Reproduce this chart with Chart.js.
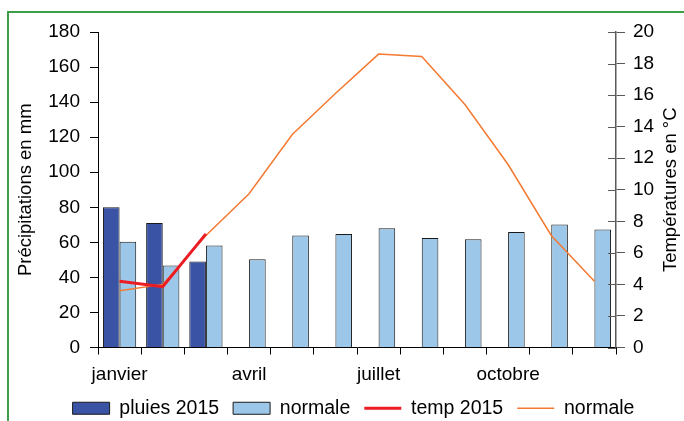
<!DOCTYPE html>
<html>
<head>
<meta charset="utf-8">
<script src="https://cdn.jsdelivr.net/npm/chart.js@4"></script>
<style>
html,body{margin:0;padding:0;background:#fff;overflow:hidden;width:684px;height:421px;}
#frame{position:absolute;left:7px;top:11px;width:720px;height:440px;border-top:2px solid #3C9E48;border-left:2px solid #3C9E48;}
#wrap{position:absolute;left:0;top:0;width:684px;height:421px;}
</style>
</head>
<body>
<div id="frame"></div>
<div id="wrap"><canvas id="c" width="684" height="421"></canvas></div>
<script>
const months = ['janvier','février','mars','avril','mai','juin','juillet','août','septembre','octobre','novembre','décembre'];
const pluies2015 = [80, 71, 49, null, null, null, null, null, null, null, null, null];
const pluiesNormale = [60.3, 46.8, 58.2, 50.4, 63.9, 64.7, 68, 62.5, 61.8, 65.9, 70.2, 67.3];
const temp2015 = [4.2, 3.85, 7.2, null, null, null, null, null, null, null, null, null];
const tempNormale = [3.6, 4.0, 7.1, 9.75, 13.5, 16.1, 18.6, 18.45, 15.4, 11.6, 7.1, 4.2];
const precipTicks = {min: 0, max: 180, step: 20};
const tempTicks = {min: 0, max: 20, step: 2};

const FONT = '"Liberation Sans", Arial, sans-serif';

const extras = {
  id: 'extras',
  afterDraw(chart) {
    const ctx = chart.ctx;
    const a = chart.chartArea;
    const y2 = chart.scales.y2;
    ctx.save();
    ctx.strokeStyle = '#595959';
    ctx.lineWidth = 1;
    y2.ticks.forEach(t => {
      const y = Math.round(y2.getPixelForValue(t.value)) + 0.5;
      ctx.beginPath();
      ctx.moveTo(a.right - 8, y);
      ctx.lineTo(a.right, y);
      ctx.stroke();
    });
    ctx.fillStyle = '#000';
    ctx.font = '18.5px ' + FONT;
    ctx.textAlign = 'center';
    ctx.textBaseline = 'middle';
    const cy = (a.top + a.bottom) / 2;
    ctx.translate(26, cy);
    ctx.rotate(-Math.PI / 2);
    ctx.fillText('Précipitations en mm', 0, 0);
    ctx.restore();
    ctx.save();
    ctx.fillStyle = '#000';
    ctx.font = '18.5px ' + FONT;
    ctx.textAlign = 'center';
    ctx.textBaseline = 'middle';
    ctx.translate(671, cy);
    ctx.rotate(-Math.PI / 2);
    ctx.fillText('Températures en °C', 0, 0);
    ctx.restore();
  }
};

new Chart(document.getElementById('c'), {
  type: 'bar',
  data: {
    labels: months,
    datasets: [
      {label: 'pluies 2015', data: pluies2015, backgroundColor: '#3A53A4', borderColor: '#1a1a1a', borderWidth: 1, yAxisID: 'y', order: 1, pointStyle: 'rect', categoryPercentage: 0.77, barPercentage: 1},
      {label: 'normale', data: pluiesNormale, backgroundColor: '#9DC7E9', borderColor: '#1a1a1a', borderWidth: 1, yAxisID: 'y', order: 1, pointStyle: 'rect', categoryPercentage: 0.77, barPercentage: 1},
      {type: 'line', label: 'temp 2015', data: temp2015, borderColor: '#EC1C24', backgroundColor: '#EC1C24', borderWidth: 3, pointRadius: 0, pointHoverRadius: 0, tension: 0, yAxisID: 'y2', order: 0, pointStyle: 'line', spanGaps: false},
      {type: 'line', label: 'normale', data: tempNormale, borderColor: '#F47A32', backgroundColor: '#F47A32', borderWidth: 1.5, pointRadius: 0, pointHoverRadius: 0, tension: 0, yAxisID: 'y2', order: 0, pointStyle: 'line'}
    ]
  },
  options: {
    responsive: false,
    animation: false,
    devicePixelRatio: 1,
    layout: {padding: {left: 23, right: 0, top: 32, bottom: -7}},
    plugins: {
      tooltip: {enabled: false},
      legend: {
        position: 'bottom',
        labels: {
          usePointStyle: true,
          pointStyleWidth: 37,
          boxHeight: 12,
          padding: 14,
          color: '#000',
          font: {size: 19.5, family: FONT},
          generateLabels(chart) {
            const items = Chart.defaults.plugins.legend.labels.generateLabels(chart);
            items.forEach(it => {
              const ds = chart.data.datasets[it.datasetIndex];
              if (ds.type === 'line') { it.lineWidth = ds.borderWidth; it.strokeStyle = ds.borderColor; }
              else { it.lineWidth = 1; it.strokeStyle = '#1a1a1a'; }
            });
            return items.sort((a, b) => a.datasetIndex - b.datasetIndex);
          }
        }
      }
    },
    scales: {
      x: {
        grid: {display: true, drawOnChartArea: false, offset: true, tickLength: 7, color: '#000'},
        border: {color: '#000', width: 1},
        ticks: {
          autoSkip: false, maxRotation: 0, color: '#000', padding: 9,
          font: {size: 19, family: FONT},
          callback(v, i) { return i % 3 === 0 ? months[i] : ''; }
        },
        afterFit(s) { s.height = 37; }
      },
      y: {
        position: 'left',
        min: precipTicks.min, max: precipTicks.max,
        grid: {drawOnChartArea: false, tickLength: 8, color: '#000'},
        border: {color: '#000', width: 1},
        ticks: {stepSize: precipTicks.step, color: '#000', padding: 10, font: {size: 19, family: FONT}},
        afterFit(s) { s.width = 75; }
      },
      y2: {
        position: 'right',
        min: tempTicks.min, max: tempTicks.max,
        grid: {drawOnChartArea: false, tickLength: 9, color: '#595959'},
        border: {color: '#595959', width: 1.5},
        ticks: {stepSize: tempTicks.step, color: '#000', padding: 8, font: {size: 19, family: FONT}},
        afterFit(s) { s.width = 68; }
      }
    }
  },
  plugins: [extras]
});
</script>
</body>
</html>
